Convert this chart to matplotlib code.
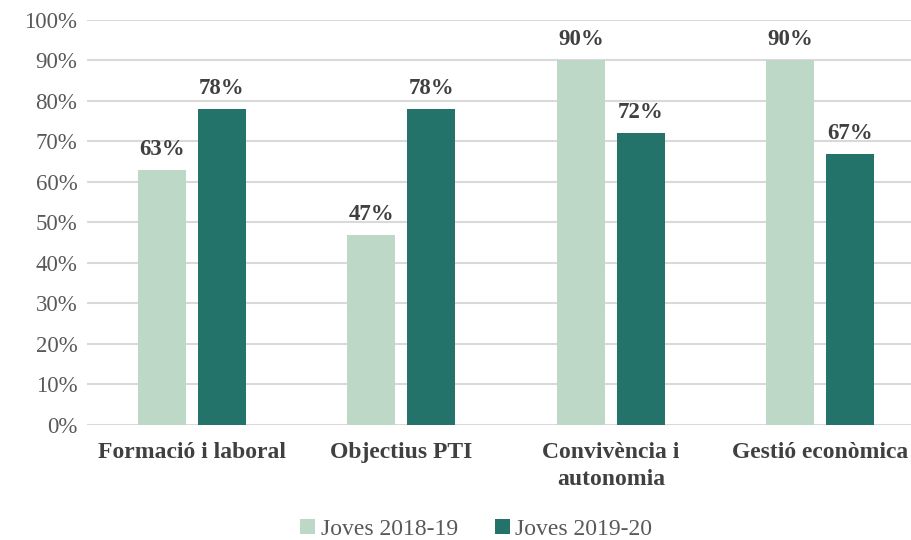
import numpy as np
import matplotlib.pyplot as plt

categories = ['Formació i laboral', 'Objectius PTI', 'Convivència i\nautonomia', 'Gestió econòmica']
joves_2018 = [63, 47, 90, 90]
joves_2019 = [78, 78, 72, 67]
series_names = ['Joves 2018-19', 'Joves 2019-20']

plt.rcParams['font.family'] = ['Liberation Serif', 'DejaVu Serif']

fig = plt.figure(figsize=(9.11, 5.4), dpi=100)
# plot area runs past the right edge, as in the original
ax = fig.add_axes([0.0955, 0.213, 0.92, 0.75])

x = np.arange(len(categories))
w = 0.229
off = 0.143
b1 = ax.bar(x - off, joves_2018, w, color='#bdd8c6', label=series_names[0], zorder=3)
b2 = ax.bar(x + off, joves_2019, w, color='#23736a', label=series_names[1], zorder=3)

for bars, vals in [(b1, joves_2018), (b2, joves_2019)]:
    for rect, v in zip(bars, vals):
        ax.text(rect.get_x() + rect.get_width() / 2, v + 2.5, f'{v}%',
                ha='center', va='bottom', fontsize=16.5, fontweight='bold', color='#404040')

ax.set_xlim(-0.5, len(categories) - 0.5)
ax.set_ylim(0, 100)
ax.set_yticks(range(0, 101, 10))
ax.set_yticklabels([f'{t}%' for t in range(0, 101, 10)], fontsize=16.5, color='#595959')
ax.set_xticks(x)
ax.set_xticklabels(categories, fontsize=17, fontweight='bold', color='#404040', va='top',
                   linespacing=1.4)
ax.tick_params(axis='both', length=0)
ax.tick_params(axis='x', pad=12)
ax.tick_params(axis='y', pad=7)
ax.grid(axis='y', color='#d9d9d9', linewidth=1.5, zorder=0)
for s in ax.spines.values():
    s.set_visible(False)

fig.legend(loc='center', bbox_to_anchor=(0.523, 0.02), ncol=2, frameon=False,
           fontsize=17, labelcolor='#595959', handlelength=0.6, handleheight=0.6,
           handletextpad=0.25, columnspacing=1.6)

fig.savefig('out.png', dpi=100)
